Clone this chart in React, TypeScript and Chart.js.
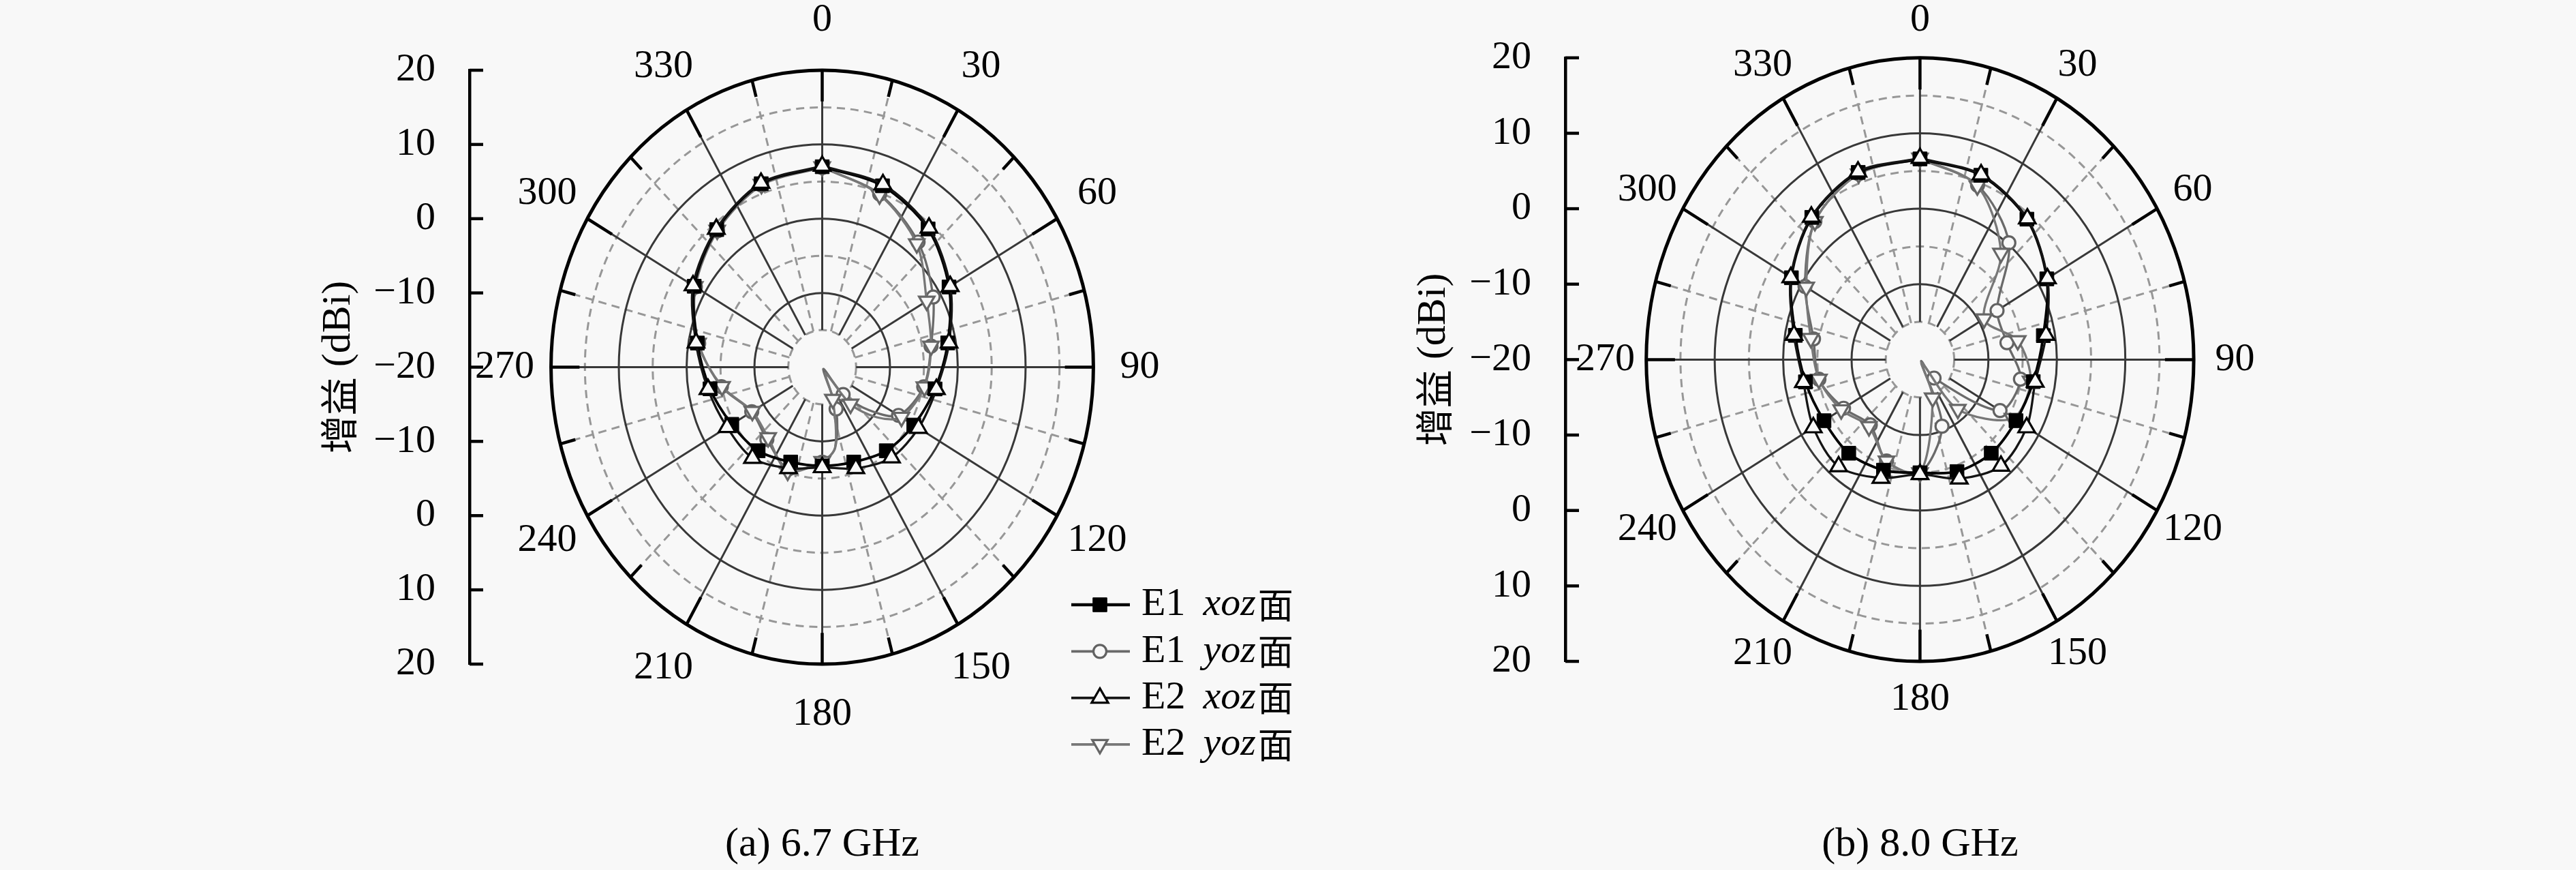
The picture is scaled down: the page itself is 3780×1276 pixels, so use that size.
import React, { useEffect, useRef } from 'react';
import { Chart, registerables } from 'chart.js';

Chart.register(...registerables);

// ---------------- data ----------------
const MARK_ANGLES = [0, 20, 40, 60, 80, 100, 120, 140, 160, 180, 200, 220, 240, 260, 280, 300, 320, 340];

// (a) 6.7 GHz
const A_E1_XOZ = [7.0, 6.0, 4.3, 1.6, -1.2, -3.1, -4.4, -5.3, -6.4, -6.7, -6.4, -5.3, -4.6, -3.2, -1.3, 1.8, 4.2, 6.3];
const A_E2_XOZ = [7.1, 6.2, 4.5, 1.8, -1.0, -2.9, -3.6, -4.1, -5.5, -6.5, -5.5, -4.0, -3.8, -2.9, -1.1, 2.0, 4.3, 6.4];
const A_YOZ_ANGLES = [0, 20, 40, 60, 80, 100, 120, 130, 140, 150, 160, 170, 180, 200, 220, 240, 260, 280, 300, 320, 340];
const A_E1_YOZ = [6.9, 4.8, 2.0, -1.1, -3.7, -4.8, -7.0, -11.0, -15.2, -19.7, -14.0, -9.0, -7.2, -5.4, -7.3, -8.0, -4.9, -1.5, 1.6, 4.0, 6.1];
const A_E2_YOZ = [7.0, 4.7, 1.7, -2.2, -3.7, -4.7, -6.5, -9.5, -13.5, -19.0, -15.4, -9.0, -7.3, -5.1, -7.6, -8.1, -5.0, -1.4, 1.7, 4.1, 6.2];

// (b) 8.0 GHz
const B_E1_XOZ = [6.6, 6.0, 4.3, 1.4, -1.7, -3.2, -3.8, -3.8, -4.2, -5.0, -4.4, -3.8, -3.8, -3.0, -1.5, 1.7, 4.6, 6.4];
const B_E2_XOZ = [6.7, 6.1, 4.4, 1.5, -1.3, -2.9, -2.0, -1.6, -3.2, -4.8, -3.3, -1.5, -2.0, -2.7, -1.3, 1.8, 4.7, 6.5];
const B_E1_YOZ_ANGLES = [0, 20, 40, 60, 80, 100, 120, 140, 145, 160, 180, 200, 220, 240, 260, 280, 300, 320, 340];
const B_E1_YOZ = [6.6, 4.6, 0.2, -7.0, -7.1, -5.1, -6.5, -16.8, -19.7, -10.6, -5.0, -5.7, -8.7, -7.1, -5.0, -4.2, -0.6, 3.9, 6.2];
const B_E2_YOZ_ANGLES = [0, 20, 40, 60, 80, 100, 120, 140, 150, 160, 180, 200, 220, 240, 260, 280, 300, 320, 340];
const B_E2_YOZ = [6.7, 4.5, -1.6, -9.2, -5.5, -3.6, -4.4, -11.4, -19.5, -14.6, -5.0, -5.7, -8.4, -6.7, -5.0, -3.8, -0.8, 3.9, 6.2];

const SERIES_ID = ['E1', 'E1', 'E2', 'E2'];
const SERIES_PLANE = ['xoz', 'yoz', 'xoz', 'yoz'];
const PLANE_SUFFIX = '面';
const ANGLE_TICKS = [0, 30, 60, 90, 120, 150, 180, 210, 240, 270, 300, 330];
const GAIN_TICK_LABELS = ['20', '10', '0', '\u221210', '\u221220', '\u221210', '0', '10', '20'];
const R_MIN_DB = -20;
const R_MAX_DB = 20;
const GRID_SOLID_DB = [-10, 0, 10];
const GRID_DASHED_DB = [-15, -5, 5, 15];
const HOLE_DB = -15;
const Y_TITLE_CJK = '增益';
const Y_TITLE_LATIN = ' (dBi)';
const CAPTION_A = '(a) 6.7 GHz';
const CAPTION_B = '(b) 8.0 GHz';

// ---------------- styles / layout ----------------
const H = 1276;
const BG = '#f8f8f8';
const SERIF = '"Liberation Serif", "DejaVu Serif", serif';
const CJK = '"Noto Sans CJK SC", "Noto Sans CJK JP", sans-serif';

type Style = { line: string; lw: number; ps: string; r: number; fill: string; stroke: string; pbw: number; rot: number; order: number };
const STYLES: Style[] = [
  { line: '#000000', lw: 3.8, ps: 'rect', r: 14.5, fill: '#000000', stroke: '#000000', pbw: 1, rot: 0, order: 1 },
  { line: '#6a6a6a', lw: 3.3, ps: 'circle', r: 9.5, fill: BG, stroke: '#626262', pbw: 3.2, rot: 0, order: 3 },
  { line: '#141414', lw: 3.3, ps: 'triangle', r: 14, fill: BG, stroke: '#000000', pbw: 3.2, rot: 0, order: 0 },
  { line: '#777777', lw: 3.3, ps: 'triangle', r: 13, fill: BG, stroke: '#666666', pbw: 3.2, rot: 180, order: 2 },
];

type Geo = { left: number; width: number; axisX: number; top: number; bottom: number; cx: number; ppu: number; labelRX: number; labelRY: number; titleX: number; captionY: number };
const GEO_A: Geo = { left: 0, width: 1960, axisX: 689, top: 103, bottom: 974, cx: 1213.6, ppu: 10.085, labelRX: 466, labelRY: 509, titleX: 497, captionY: 1239 };
const GEO_B: Geo = { left: 1960, width: 1820, axisX: 337, top: 83, bottom: 970, cx: 863.5, ppu: 10.16, labelRX: 462, labelRY: 498, titleX: 144, captionY: 1239 };
const LEGEND = { x0: 1572, x1: 1658, mx: 1614, tx: 1675, y0: 887, dy: 68.3 };

type Series = { angles: number[]; values: number[] };

function buildDatasets(series: Series[]) {
  return series.map((s, i) => {
    const st = STYLES[i];
    const pts = s.angles.map((a, k) => {
      const r = Math.max(0, s.values[k] - R_MIN_DB);
      const t = (a * Math.PI) / 180;
      return { x: r * Math.sin(t), y: r * Math.cos(t) };
    });
    const radii = s.angles.map((a) => (a % 20 === 0 ? st.r : 0));
    pts.push({ ...pts[0] });
    radii.push(0);
    return {
      label: SERIES_ID[i] + ' ' + SERIES_PLANE[i] + PLANE_SUFFIX,
      data: pts,
      showLine: true,
      fill: false,
      tension: 0.3,
      borderColor: st.line,
      borderWidth: st.lw,
      pointStyle: st.ps,
      pointRadius: radii,
      pointHoverRadius: radii,
      pointBackgroundColor: st.fill,
      pointBorderColor: st.stroke,
      pointBorderWidth: st.pbw,
      pointRotation: st.rot,
      order: st.order,
      clip: false,
    };
  });
}

function drawMarker(ctx: CanvasRenderingContext2D, st: Style, x: number, y: number) {
  ctx.save();
  ctx.lineWidth = st.pbw;
  ctx.strokeStyle = st.stroke;
  ctx.fillStyle = st.fill;
  ctx.beginPath();
  const r = st.r;
  if (st.ps === 'rect') {
    const s = r * Math.SQRT1_2;
    ctx.rect(x - s, y - s, 2 * s, 2 * s);
  } else if (st.ps === 'circle') {
    ctx.arc(x, y, r, 0, Math.PI * 2);
  } else {
    let rad = (st.rot * Math.PI) / 180;
    for (let k = 0; k < 3; k++) {
      const px = x + Math.sin(rad) * r;
      const py = y - Math.cos(rad) * r;
      if (k === 0) ctx.moveTo(px, py);
      else ctx.lineTo(px, py);
      rad += (2 * Math.PI) / 3;
    }
    ctx.closePath();
  }
  ctx.fill();
  ctx.stroke();
  ctx.restore();
}

function PolarPanel({ geo, series, caption, legend }: { geo: Geo; series: Series[]; caption: string; legend: boolean }) {
  const ref = useRef<HTMLCanvasElement | null>(null);
  useEffect(() => {
    const canvas = ref.current;
    if (!canvas) return;
    const span = R_MAX_DB - R_MIN_DB;
    const xMin = -(geo.cx - geo.axisX) / geo.ppu;
    const xMax = (geo.width - geo.cx) / geo.ppu;
    const rOf = (db: number) => db - R_MIN_DB;

    const gridPlugin = {
      id: 'polarGrid',
      beforeDatasetsDraw(chart: any) {
        const { ctx } = chart;
        const xs = chart.scales.x;
        const ys = chart.scales.y;
        const cx = xs.getPixelForValue(0);
        const cy = ys.getPixelForValue(0);
        const ex = (r: number) => xs.getPixelForValue(r) - cx;
        const ey = (r: number) => cy - ys.getPixelForValue(r);
        const pt = (r: number, deg: number) => {
          const t = (deg * Math.PI) / 180;
          return [xs.getPixelForValue(r * Math.sin(t)), ys.getPixelForValue(r * Math.cos(t))];
        };
        const ell = (r: number) => {
          ctx.beginPath();
          ctx.ellipse(cx, cy, ex(r), ey(r), 0, 0, Math.PI * 2);
          ctx.stroke();
        };
        const spoke = (r0: number, r1: number, deg: number) => {
          const a = pt(r0, deg);
          const b = pt(r1, deg);
          ctx.beginPath();
          ctx.moveTo(a[0], a[1]);
          ctx.lineTo(b[0], b[1]);
          ctx.stroke();
        };
        const rHole = rOf(HOLE_DB);
        const rOut = rOf(R_MAX_DB);
        ctx.save();
        ctx.setLineDash([12, 8]);
        ctx.strokeStyle = '#979797';
        ctx.lineWidth = 3;
        GRID_DASHED_DB.forEach((db) => ell(rOf(db)));
        for (let a = 15; a < 360; a += 30) spoke(rHole, rOut, a);
        ctx.setLineDash([]);
        ctx.strokeStyle = '#383838';
        ctx.lineWidth = 3;
        GRID_SOLID_DB.forEach((db) => ell(rOf(db)));
        ANGLE_TICKS.forEach((a) => spoke(rHole, rOut, a));
        ctx.strokeStyle = '#000';
        ctx.lineWidth = 5;
        ell(rOut);
        ctx.lineWidth = 4.5;
        ANGLE_TICKS.forEach((a) => spoke(rOut - 4.2, rOut, a));
        for (let a = 15; a < 360; a += 30) spoke(rOut - 2.3, rOut, a);
        ctx.restore();
      },
    };

    const decorPlugin = {
      id: 'decor',
      afterDraw(chart: any) {
        const { ctx } = chart;
        const xs = chart.scales.x;
        const ys = chart.scales.y;
        const cx = xs.getPixelForValue(0);
        const cy = ys.getPixelForValue(0);
        ctx.save();
        // inward ticks on gain axis
        const ax = ys.right;
        ctx.strokeStyle = '#000';
        ctx.lineWidth = 4.5;
        ys.ticks.forEach((t: any) => {
          const py = ys.getPixelForValue(t.value);
          ctx.beginPath();
          ctx.moveTo(ax, py);
          ctx.lineTo(ax + 20, py);
          ctx.stroke();
        });
        // angle labels
        ctx.fillStyle = '#000';
        ctx.font = `58px ${SERIF}`;
        ctx.textAlign = 'center';
        ctx.textBaseline = 'middle';
        ANGLE_TICKS.forEach((a) => {
          const t = (a * Math.PI) / 180;
          ctx.fillText(String(a), cx + geo.labelRX * Math.sin(t), cy - geo.labelRY * Math.cos(t));
        });
        // axis title (rotated)
        ctx.save();
        ctx.translate(geo.titleX, cy);
        ctx.rotate(-Math.PI / 2);
        ctx.textAlign = 'left';
        ctx.font = `56px ${CJK}`;
        const w1 = ctx.measureText(Y_TITLE_CJK).width;
        ctx.font = `60px ${SERIF}`;
        const w2 = ctx.measureText(Y_TITLE_LATIN).width;
        const x0 = -(w1 + w2) / 2;
        ctx.font = `56px ${CJK}`;
        ctx.fillText(Y_TITLE_CJK, x0, 0);
        ctx.font = `60px ${SERIF}`;
        ctx.fillText(Y_TITLE_LATIN, x0 + w1, 0);
        ctx.restore();
        // caption
        ctx.font = `60px ${SERIF}`;
        ctx.textAlign = 'center';
        ctx.fillText(caption, cx, geo.captionY);
        // legend
        if (legend) {
          STYLES.forEach((st, i) => {
            const y = LEGEND.y0 + i * LEGEND.dy;
            ctx.strokeStyle = st.line;
            ctx.lineWidth = st.lw + 0.5;
            ctx.beginPath();
            ctx.moveTo(LEGEND.x0, y);
            ctx.lineTo(LEGEND.x1, y);
            ctx.stroke();
            drawMarker(ctx, st, LEGEND.mx, y);
            ctx.fillStyle = '#000';
            ctx.textAlign = 'left';
            ctx.textBaseline = 'middle';
            let x = LEGEND.tx;
            ctx.font = `58px ${SERIF}`;
            ctx.fillText(SERIES_ID[i], x, y);
            x += ctx.measureText(SERIES_ID[i]).width + 26;
            ctx.font = `italic 58px ${SERIF}`;
            ctx.fillText(SERIES_PLANE[i], x, y);
            x += ctx.measureText(SERIES_PLANE[i]).width + 3;
            ctx.font = `52px ${CJK}`;
            ctx.fillText(PLANE_SUFFIX, x, y);
          });
        }
        ctx.restore();
      },
    };

    const chart = new Chart(canvas, {
      type: 'scatter',
      data: { datasets: buildDatasets(series) as any },
      options: {
        animation: false,
        responsive: false,
        maintainAspectRatio: false,
        devicePixelRatio: 1,
        events: [],
        layout: { padding: { left: 0, right: 0, top: geo.top, bottom: H - geo.bottom } },
        scales: {
          x: { type: 'linear', display: false, min: xMin, max: xMax },
          y: {
            type: 'linear',
            position: 'left',
            min: -span,
            max: span,
            afterFit: (s: any) => {
              s.width = geo.axisX;
            },
            grid: { display: true, drawOnChartArea: false, drawTicks: false },
            border: { display: true, color: '#000', width: 4.5 },
            ticks: {
              stepSize: 10,
              padding: 50,
              color: '#000',
              font: { family: SERIF, size: 58 },
              callback: (v: any) => GAIN_TICK_LABELS[Math.round((Number(v) + span) / 10)] ?? '',
            },
          },
        },
        plugins: { legend: { display: false }, tooltip: { enabled: false } },
      } as any,
      plugins: [gridPlugin, decorPlugin],
    });
    return () => chart.destroy();
  }, [geo, series, caption, legend]);
  return (
    <canvas
      ref={ref}
      width={geo.width}
      height={H}
      style={{ position: 'absolute', left: geo.left, top: 0, width: geo.width, height: H }}
    />
  );
}

const SERIES_A: Series[] = [
  { angles: MARK_ANGLES, values: A_E1_XOZ },
  { angles: A_YOZ_ANGLES, values: A_E1_YOZ },
  { angles: MARK_ANGLES, values: A_E2_XOZ },
  { angles: A_YOZ_ANGLES, values: A_E2_YOZ },
];
const SERIES_B: Series[] = [
  { angles: MARK_ANGLES, values: B_E1_XOZ },
  { angles: B_E1_YOZ_ANGLES, values: B_E1_YOZ },
  { angles: MARK_ANGLES, values: B_E2_XOZ },
  { angles: B_E2_YOZ_ANGLES, values: B_E2_YOZ },
];

export default function App() {
  return (
    <div style={{ position: 'absolute', left: 0, top: 0, width: 3780, height: H, background: BG, overflow: 'hidden' }}>
      <PolarPanel geo={GEO_A} series={SERIES_A} caption={CAPTION_A} legend={true} />
      <PolarPanel geo={GEO_B} series={SERIES_B} caption={CAPTION_B} legend={false} />
    </div>
  );
}
